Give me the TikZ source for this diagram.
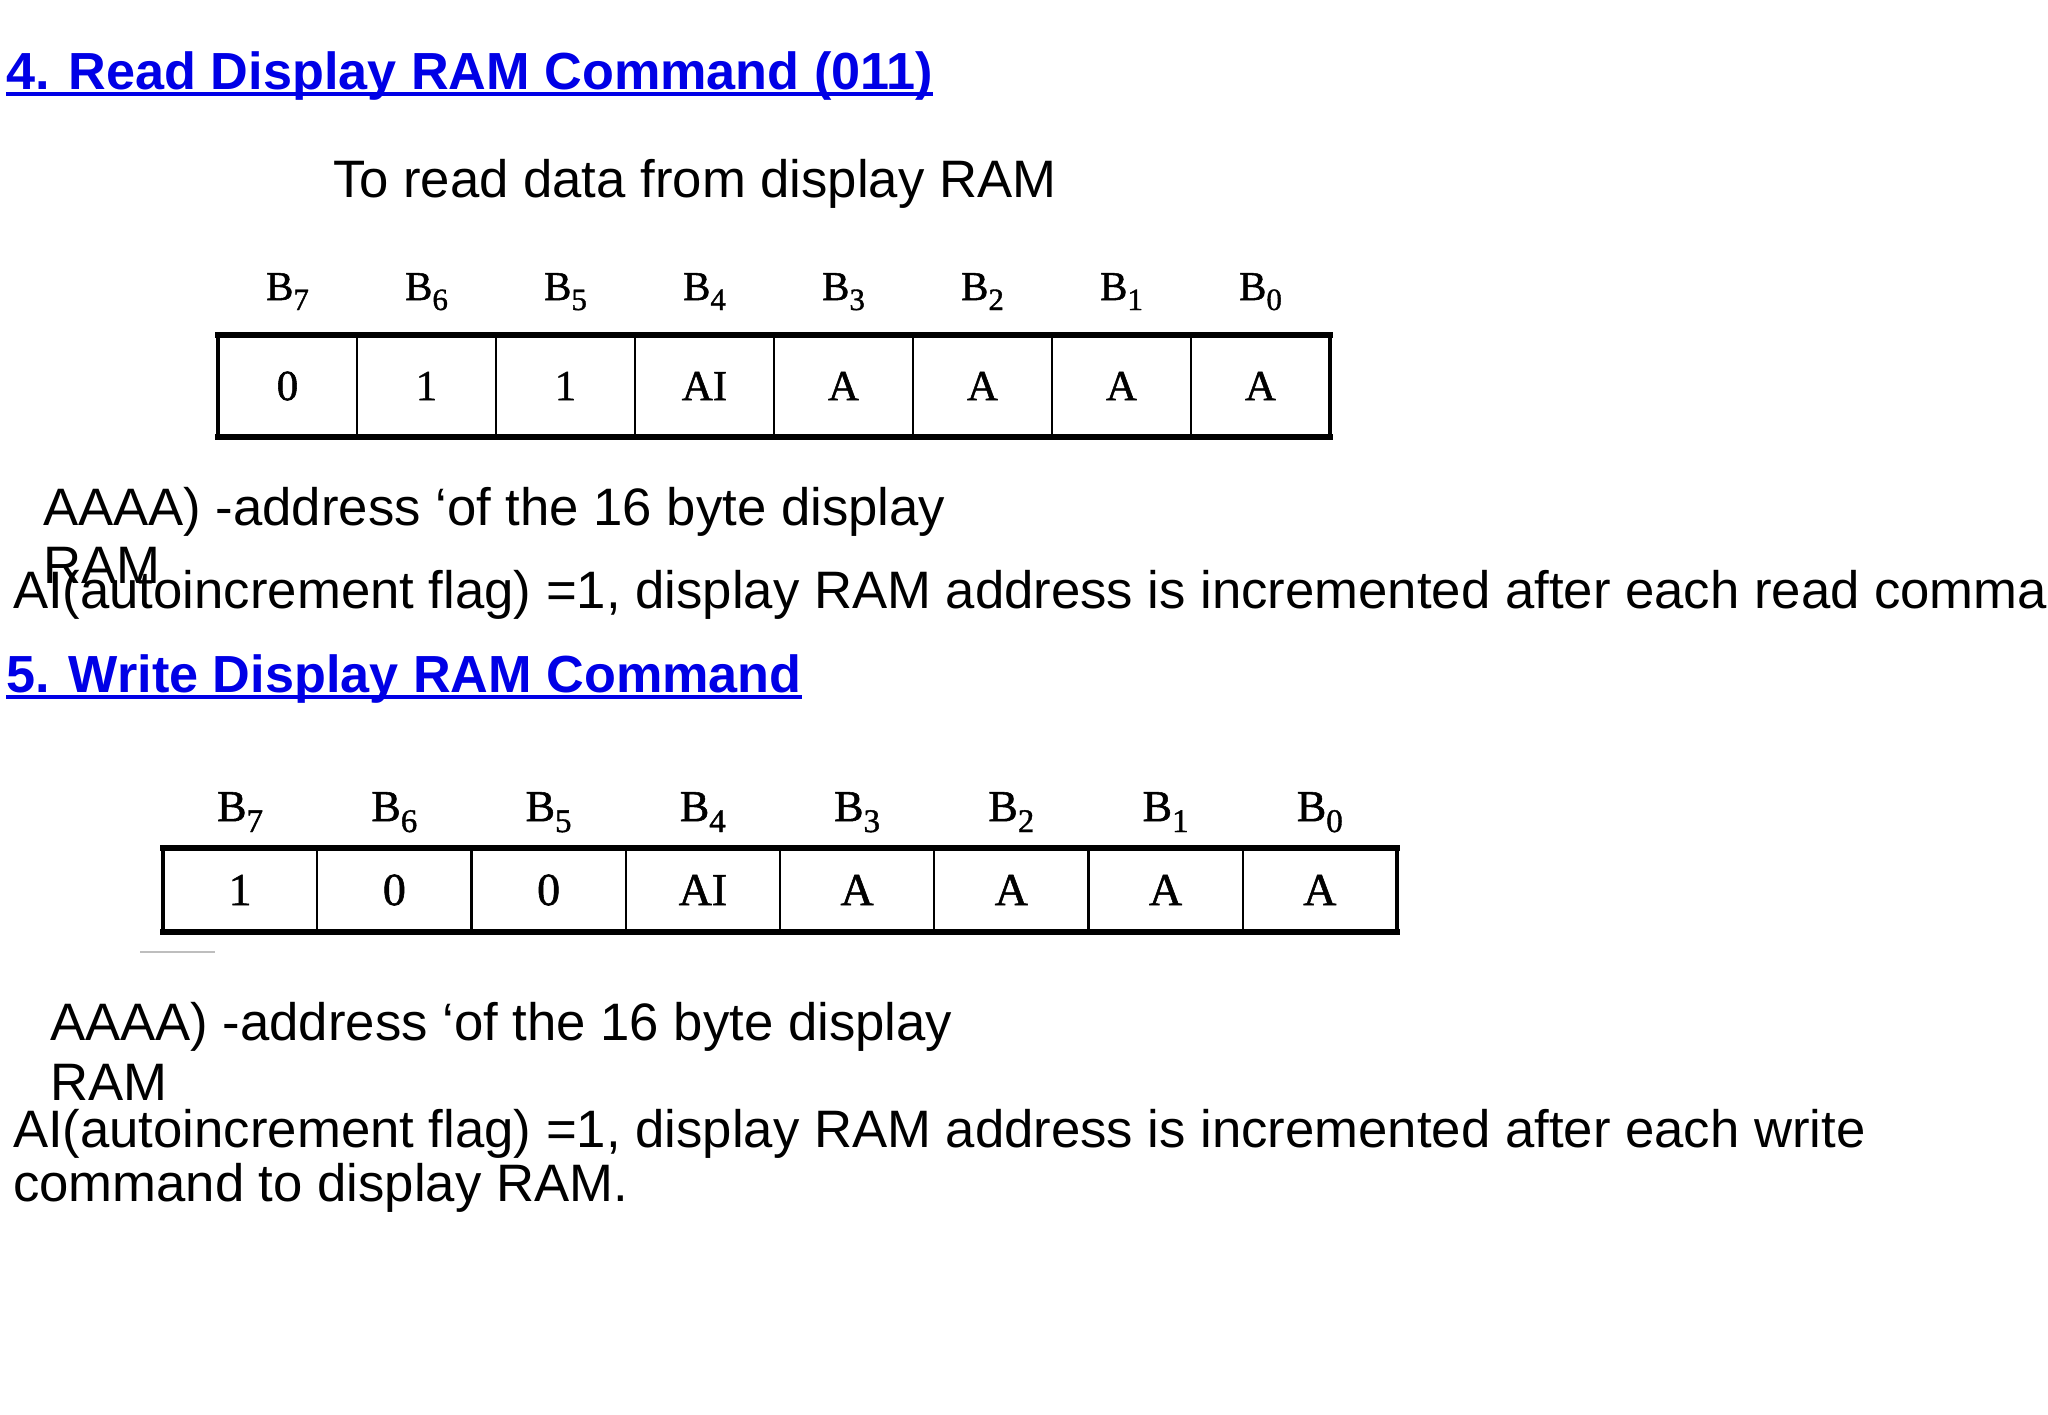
\documentclass[tikz,border=0pt]{standalone}
\usepackage{fontspec}
\setmainfont{Liberation Sans}
\newfontfamily\scanlbl[FakeBold=1.2]{Liberation Serif}
\usetikzlibrary{calc}
\definecolor{headblue}{RGB}{0,0,230}
\definecolor{scanmark}{RGB}{190,190,190}
\tikzset{
  body/.style={inner sep=0pt, outer sep=0pt, anchor=base west, text=black, font=\fontsize{52.7}{58}\selectfont},
  head/.style={inner sep=0pt, outer sep=0pt, anchor=base west, text=headblue, font=\bfseries\fontsize{52.2}{58}\selectfont},
  uline/.style={draw=headblue, line width=3.5pt},
  cellA/.style={draw=black, line width=2.2pt, minimum width=139pt, minimum height=102pt, inner sep=0pt, outer sep=0pt, font=\scanlbl\fontsize{43}{43}\selectfont},
  cellB/.style={draw=black, line width=2.4pt, minimum width=154.25pt, minimum height=84pt, inner sep=0pt, outer sep=0pt, font=\scanlbl\fontsize{46}{46}\selectfont},
  bitA/.style={inner sep=0pt, outer sep=0pt, anchor=base, font=\scanlbl\fontsize{41}{41}\selectfont},
  bitB/.style={inner sep=0pt, outer sep=0pt, anchor=base, font=\scanlbl\fontsize{44}{44}\selectfont},
  frameline/.style={draw=black, line width=6pt, line cap=rect},
  sideline/.style={draw=black, line width=4pt, line cap=rect},
}
\begin{document}
\begin{tikzpicture}[x=1pt, y=-1pt]
\useasboundingbox (0,0) rectangle (2048,1414);
\clip (0,0) rectangle (2048,1414);
\fill[white] (0,0) rectangle (2048,1414);

% Section 4
\node[head] (h1) at (6,89) {4. Read Display RAM Command (011)};
\draw[uline] ($(h1.base west)+(0,5)$) -- ($(h1.base east)+(0,5)$);
\node[body] (t1) at (333,197) {To read data from display RAM};

\foreach \v [count=\i] in {0,1,1,AI,A,A,A,A} {
  \node[cellA] (ra\i) at ({218+139*(\i-0.5)},386) {\v};
}
\foreach \b [count=\i] in {7,6,5,4,3,2,1,0} {
  \node[bitA] (rb\i) at ($(ra\i.north)+(0,-35)$) {B\raisebox{-10pt}{\fontsize{31}{31}\selectfont\b}};
}
\draw[frameline] (ra1.north west) -- (ra8.north east);
\draw[frameline] (ra1.south west) -- (ra8.south east);
\draw[sideline] (ra1.north west) -- (ra1.south west);
\draw[sideline] (ra8.north east) -- (ra8.south east);

\node[body] (a1) at (43,525) {AAAA) -address ‘of the 16 byte display};
\node[body] (a1r) at (43,583) {RAM};
\node[body] (a1c) at (13,608) {AI(autoincrement flag) =1, display RAM address is incremented after each read comma};

% Section 5
\node[head] (h2) at (6,692) {5. Write Display RAM Command};
\draw[uline] ($(h2.base west)+(0,5)$) -- ($(h2.base east)+(0,5)$);

\foreach \v [count=\i] in {1,0,0,AI,A,A,A,A} {
  \node[cellB] (wa\i) at ({163+154.25*(\i-0.5)},890) {\v};
}
\foreach \b [count=\i] in {7,6,5,4,3,2,1,0} {
  \node[bitB] (wb\i) at ($(wa\i.north)+(0,-27)$) {B\raisebox{-11pt}{\fontsize{33}{33}\selectfont\b}};
}
\draw[frameline] (wa1.north west) -- (wa8.north east);
\draw[frameline] (wa1.south west) -- (wa8.south east);
\draw[sideline] (wa1.north west) -- (wa1.south west);
\draw[sideline] (wa8.north east) -- (wa8.south east);
\draw[scanmark, line width=2pt] (140,952) -- (215,952);

\node[body] (a2) at (50,1040) {AAAA) -address ‘of the 16 byte display};
\node[body] (a2r) at (50,1100) {RAM};
\node[body] (a2c) at (13,1147) {AI(autoincrement flag) =1, display RAM address is incremented after each write};
\node[body] (a2d) at (13,1201) {command to display RAM.};
\end{tikzpicture}
\end{document}
